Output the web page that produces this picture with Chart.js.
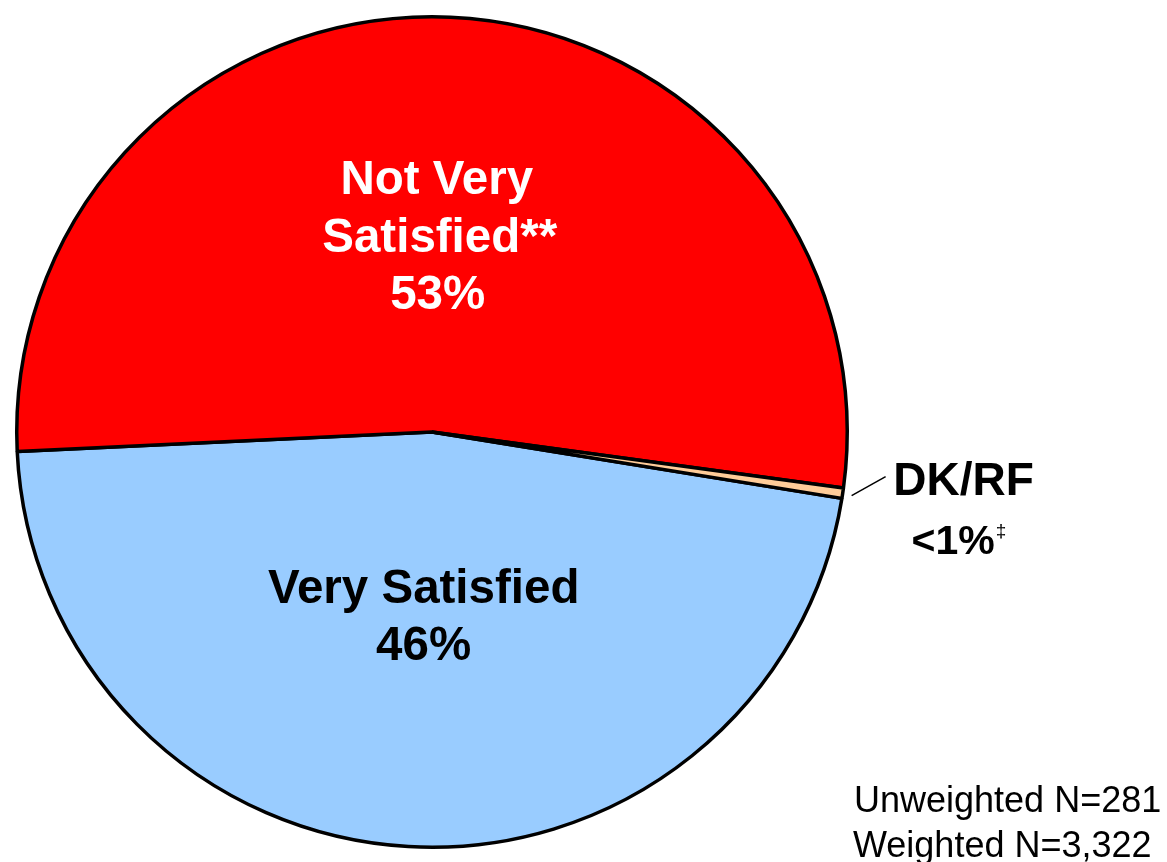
<!DOCTYPE html>
<html>
<head>
<meta charset="utf-8">
<script src="https://cdn.jsdelivr.net/npm/chart.js@4/dist/chart.umd.min.js"></script>
<style>
  html, body { margin: 0; padding: 0; background: #ffffff; }
  #wrap { position: relative; width: 1167px; height: 862px; overflow: hidden; }
  canvas { display: block; }
</style>
</head>
<body>
<div id="wrap"><canvas id="c" width="1167" height="862"></canvas></div>
<script>
// ---- data ----
const categories = ['Very Satisfied', 'Not Very Satisfied**', 'DK/RF'];
const values = [46.7, 52.9, 0.4];
const labelLines = [['Very Satisfied'], ['Not Very', 'Satisfied**'], ['DK/RF']];
const pctLabels = ['46%', '53%', '<1%'];
const footnotes = ['Unweighted N=281', 'Weighted N=3,322'];
const sliceColors = ['#99CCFF', '#FF0000', '#FFCC99'];

const FONT = '"Liberation Sans", Arial, Helvetica, sans-serif';

const labelPlugin = {
  id: 'sliceLabels',
  afterDatasetsDraw(chart) {
    const ctx = chart.ctx;
    const meta = chart.getDatasetMeta(0);
    ctx.save();
    ctx.textAlign = 'center';
    ctx.textBaseline = 'alphabetic';

    // Very Satisfied (inside, black)
    {
      const a = meta.data[0];
      const mid = (a.startAngle + a.endAngle) / 2;
      const r = a.outerRadius * 0.438;
      const x = a.x + r * Math.cos(mid) + 2;
      const y = a.y + r * Math.sin(mid);
      ctx.fillStyle = '#000000';
      ctx.font = 'bold 47.5px ' + FONT;
      ctx.fillText(labelLines[0][0], x, y - 11);
      ctx.fillText(pctLabels[0], x, y + 46);
    }
    // Not Very Satisfied (inside, white)
    {
      const a = meta.data[1];
      const mid = (a.startAngle + a.endAngle) / 2;
      const r = a.outerRadius * 0.475;
      const x = a.x + r * Math.cos(mid) - 3;
      const y = a.y + r * Math.sin(mid);
      ctx.fillStyle = '#FFFFFF';
      ctx.font = 'bold 47.5px ' + FONT;
      ctx.fillText(labelLines[1][0], x - 1, y - 41);
      ctx.fillText(labelLines[1][1], x + 2, y + 17);
      ctx.fillText(pctLabels[1], x, y + 74);
    }
    // DK/RF (outside with leader line)
    {
      const a = meta.data[2];
      const mid = (a.startAngle + a.endAngle) / 2;
      const ox = a.x + (a.outerRadius + 9) * Math.cos(mid);
      const oy = a.y + (a.outerRadius + 9) * Math.sin(mid);
      ctx.strokeStyle = '#000000';
      ctx.lineWidth = 1.5;
      ctx.beginPath();
      ctx.moveTo(ox, oy + 1);
      ctx.lineTo(ox + 34, oy - 18);
      ctx.stroke();
      ctx.fillStyle = '#000000';
      ctx.font = 'bold 46px ' + FONT;
      ctx.fillText(labelLines[2][0], ox + 112, oy);
      ctx.font = 'bold 41px ' + FONT;
      ctx.textAlign = 'left';
      const w = ctx.measureText(pctLabels[2]).width;
      const px = ox + 60;
      ctx.fillText(pctLabels[2], px, oy + 59);
      ctx.font = '19px ' + FONT;
      ctx.fillText('\u2021', px + w + 1, oy + 42);
    }

    // footnotes
    ctx.textAlign = 'left';
    ctx.fillStyle = '#000000';
    ctx.font = '36px ' + FONT;
    ctx.fillText(footnotes[0], 854, 812);
    ctx.fillText(footnotes[1], 853, 857);
    ctx.restore();
  }
};

new Chart(document.getElementById('c'), {
  type: 'pie',
  data: {
    labels: categories,
    datasets: [{
      data: values,
      backgroundColor: sliceColors,
      borderColor: '#000000',
      borderWidth: 3.5,
      hoverOffset: 0
    }]
  },
  options: {
    responsive: false,
    animation: false,
    rotation: 99.2,
    layout: { padding: { left: 15, top: 15, right: 318, bottom: 13 } },
    plugins: {
      legend: { display: false },
      tooltip: { enabled: false },
      title: { display: false }
    },
    events: []
  },
  plugins: [labelPlugin]
});
</script>
</body>
</html>
